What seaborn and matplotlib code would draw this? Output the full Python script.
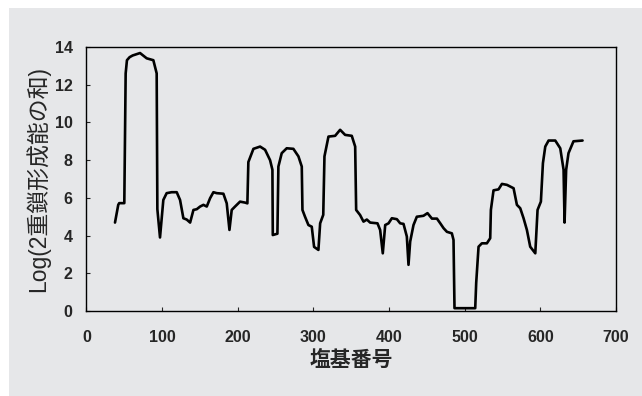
import matplotlib
matplotlib.use("Agg")
import matplotlib.pyplot as plt
import seaborn as sns
import pandas as pd
from matplotlib.patches import Rectangle

# base position (x) and log of summed duplex-forming ability (y)
base_pos = [
    37.7, 42.0, 43.3, 50.0, 51.8, 53.5, 57.0, 61.0, 70.8, 79.6, 88.4, 92.8, 93.7, 97.2,
    101.6, 106.0, 112.6, 119.3, 123.7, 128.1, 132.5, 137.0, 141.4, 145.8, 150.2, 154.6,
    159.0, 163.4, 167.8, 172.2, 181.0, 185.4, 189.0, 192.0, 196.4, 203.0, 209.6, 212.7,
    214.0, 220.7, 229.5, 236.1, 242.7, 245.8, 246.3, 252.4, 253.7, 258.1, 264.7, 273.5,
    280.2, 284.6, 285.5, 288.9, 293.4, 297.8, 300.9, 306.6, 308.9, 313.0, 314.6, 319.9,
    328.7, 335.3, 341.9, 350.7, 355.2, 356.5, 361.7, 366.2, 370.6, 375.0, 384.7, 388.2,
    391.7, 394.9, 399.3, 403.7, 410.3, 414.7, 419.1, 423.5, 425.7, 427.9, 432.3, 436.7,
    445.5, 450.8, 456.7, 463.3, 467.7, 472.1, 476.5, 483.0, 485.2, 486.5, 513.9, 515.2,
    518.3, 522.7, 529.3, 533.7, 534.6, 538.1, 544.7, 549.2, 555.8, 564.6, 569.0, 573.4,
    577.8, 582.2, 586.6, 593.3, 596.3, 600.7, 603.4, 606.5, 610.9, 619.7, 626.3, 630.7,
    632.0, 634.1, 637.2, 643.8, 655.8,
]
log_sum = [
    4.69, 5.63, 5.72, 5.72, 12.6, 13.3, 13.46, 13.55, 13.68, 13.4, 13.3, 12.6, 5.4, 3.9,
    5.89, 6.25, 6.3, 6.3, 5.89, 4.92, 4.85, 4.69, 5.36, 5.4, 5.54, 5.63,
    5.54, 5.98, 6.3, 6.25, 6.22, 5.71, 4.3, 5.36, 5.54, 5.8, 5.75, 5.71,
    7.9, 8.6, 8.72, 8.55, 8.0, 7.49, 4.03, 4.1, 7.66, 8.37, 8.63, 8.6,
    8.2, 7.66, 5.36, 5.0, 4.56, 4.47, 3.4, 3.24, 4.65, 5.1, 8.2, 9.25,
    9.29, 9.61, 9.34, 9.29, 8.72, 5.36, 5.09, 4.74, 4.85, 4.69, 4.65, 4.3,
    3.06, 4.56, 4.65, 4.92, 4.87, 4.65, 4.62, 3.95, 2.45, 3.68, 4.56, 5.0,
    5.05, 5.19, 4.9, 4.9, 4.65, 4.39, 4.2, 4.12, 3.77, 0.15, 0.15, 1.5,
    3.41, 3.59, 3.59, 3.86, 5.36, 6.4, 6.45, 6.74, 6.69, 6.51, 5.63, 5.45,
    4.92, 4.3, 3.41, 3.06, 5.36, 5.8, 7.84, 8.72, 9.04, 9.04, 8.63, 7.49,
    4.69, 7.49, 8.37, 9.0, 9.04,
]
x_ticks = [0, 100, 200, 300, 400, 500, 600, 700]
y_ticks = [0, 2, 4, 6, 8, 10, 12, 14]

df = pd.DataFrame({"pos": base_pos, "val": log_sum})

sns.set_style("ticks")
plt.rcParams["font.family"] = ["Liberation Sans", "Noto Sans CJK JP"]

bg = "#e6e7e9"
fig = plt.figure(figsize=(6.42, 3.96), dpi=100)
fig.patch.set_facecolor("white")
# grey panel, leaving a thin white strip at the top and left
fig.patches.append(Rectangle((9 / 642, 0), 1, 1 - 8 / 396, transform=fig.transFigure,
                             facecolor=bg, edgecolor="none", zorder=-1))

ax = fig.add_axes([0.1347, 0.2146, 0.8248, 0.6667])
ax.set_facecolor(bg)
sns.lineplot(data=df, x="pos", y="val", sort=False, estimator=None,
             color="black", linewidth=1.9, ax=ax)

ax.set_xlim(0, 700)
ax.set_ylim(0, 14)
ax.set_xticks(x_ticks)
ax.set_yticks(y_ticks)
ax.tick_params(direction="in", length=3, width=0.8, labelsize=11.5)
ax.tick_params(axis="y", pad=10)
ax.tick_params(axis="x", pad=14)
for lab in ax.get_xticklabels() + ax.get_yticklabels():
    lab.set_fontweight("bold")
for s in ax.spines.values():
    s.set_linewidth(1.0)
    s.set_color("black")

ax.set_xlabel("塩基番号", fontsize=15, fontweight="bold", labelpad=3)
ax.set_ylabel("Log(2重鎖形成能の和)", fontsize=16.5, labelpad=3)

fig.savefig("out.png", dpi=100, facecolor=fig.get_facecolor())
